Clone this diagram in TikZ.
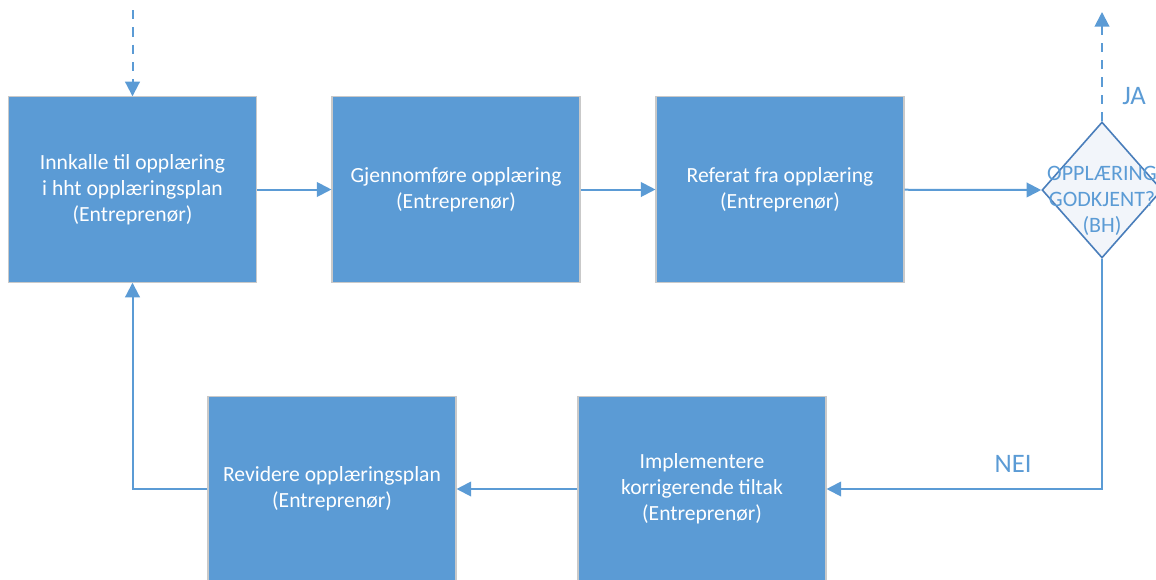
\documentclass[tikz,border=0pt]{standalone}
\usepackage{fontspec}
\setmainfont{Carlito}
\usepackage{xcolor}
\usetikzlibrary{shapes.geometric,arrows.meta}

\definecolor{boxblue}{HTML}{5B9BD5}
\definecolor{boxedge}{HTML}{C9C9C9}
\definecolor{linkblue}{HTML}{5B9BD5}
\definecolor{rhombedge}{HTML}{4A7EBB}
\definecolor{rhombfill}{HTML}{F2F5FA}

\begin{document}
\begin{tikzpicture}[x=0.75pt,y=-0.75pt]
    \tikzstyle{B}=[rectangle,fill=boxblue,draw=boxedge,line width=0.8pt,minimum width=186pt,minimum height=139pt,text=white,align=center,font=\fontsize{16.2pt}{19.5pt}\selectfont]
    \tikzstyle{D}=[diamond,fill=rhombfill,draw=rhombedge,line width=1.2pt,minimum width=90pt,minimum height=102pt,inner sep=0pt]
    \tikzstyle{T}=[text=linkblue,align=center,font=\fontsize{16.5pt}{19.5pt}\selectfont]
    \tikzstyle{L}=[text=linkblue,font=\fontsize{20pt}{24pt}\selectfont]
    \tikzstyle{A}=[draw=linkblue,line width=1.5pt,-{Triangle[length=11pt,width=11pt]}]
    \tikzstyle{AD}=[A,dash pattern=on 7pt off 6pt]

    \useasboundingbox (0,0) rectangle (1156,579);

    % Top row
    \node [B] (innkalle) at (132.5, 189.5) {Innkalle til opplæring\\i hht opplæringsplan\\(Entreprenør)};
    \node [B] (gjennom)  at (456, 189.5) {Gjennomføre opplæring\\(Entreprenør)};
    \node [B] (referat)  at (780, 189.5) {Referat fra opplæring\\(Entreprenør)};
    \node [D] (godkjent) at (1102, 190) {};
    \node [T] (godtekst) at (1102, 201) {OPPLÆRING\\GODKJENT?\\(BH)};

    % Bottom row
    \node [B] (tiltak) at (702, 489) {Implementere\\korrigerende tiltak\\(Entreprenør)};
    \node [B] (revid)  at (332, 489) {Revidere opplæringsplan\\(Entreprenør)};

    % In and out
    \coordinate (inn) at (132.5, 10);
    \coordinate (ut) at (1102, 12);

    \draw [AD] (inn) -- (innkalle.north);
    \draw [A] (innkalle) -- (gjennom);
    \draw [A] (gjennom) -- (referat);
    \draw [A] (referat) -- (godkjent.west);
    \draw [AD] (godkjent.north) -- (ut);
    \draw [A] (godkjent.south) |- (tiltak.east);
    \draw [A] (tiltak) -- (revid);
    \draw [A] (revid.west) -| (innkalle.south);

    \node [L] (ja) at (1134, 96) {JA};
    \node [L] (nei) at (1013, 464) {NEI};
\end{tikzpicture}
\end{document}
